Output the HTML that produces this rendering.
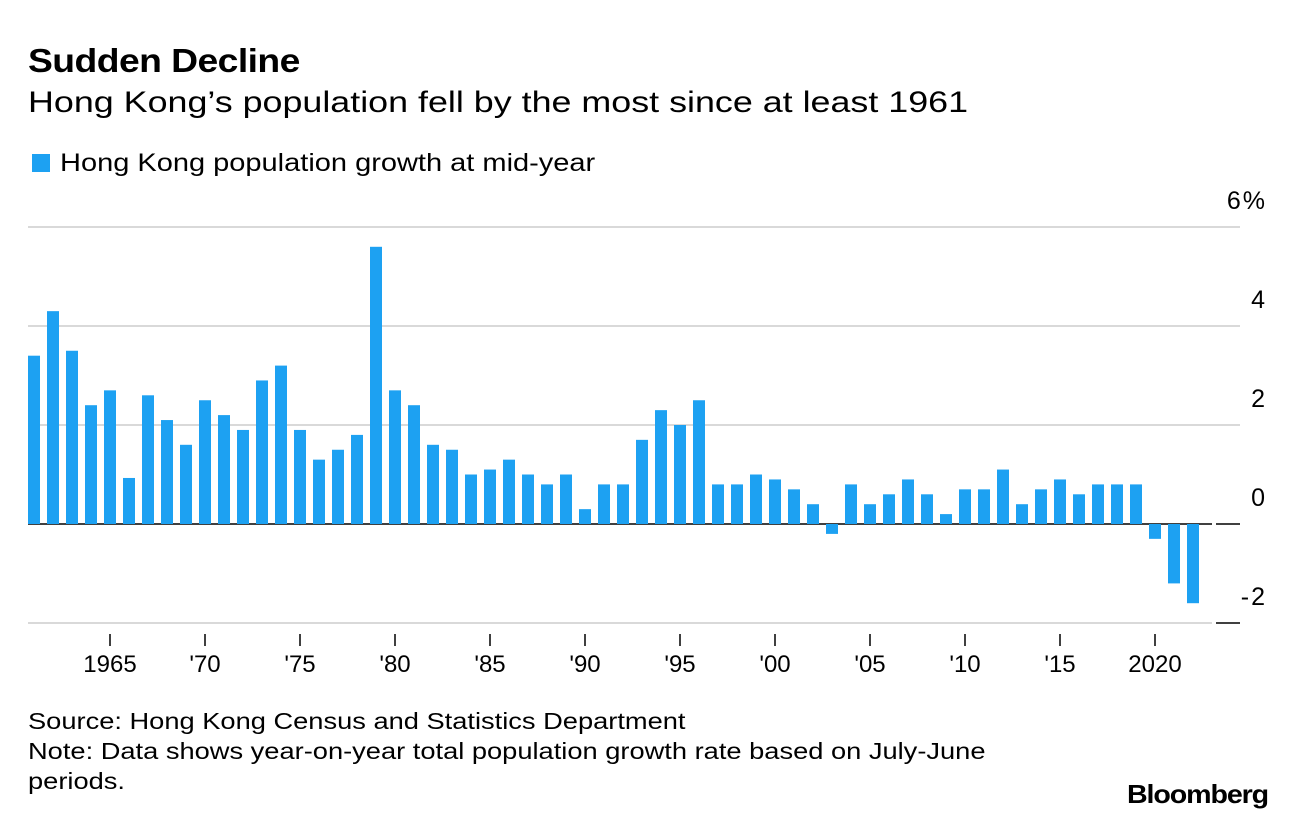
<!DOCTYPE html>
<html><head><meta charset="utf-8"><style>
body{margin:0;background:#fff;font-family:"Liberation Sans",Arial,sans-serif;}
#wrap{position:relative;width:1296px;height:820px;overflow:hidden;}
.t{position:absolute;white-space:nowrap;color:#000;transform-origin:0 0;}
</style></head><body>
<div id="wrap">
<div class="t" style="left:28px;top:42px;font-size:33px;font-weight:bold;letter-spacing:-0.5px;transform:scaleX(1.13)">Sudden Decline</div>
<div class="t" style="left:28px;top:86px;font-size:30px;transform:scaleX(1.195)">Hong Kong’s population fell by the most since at least 1961</div>
<div class="t" style="left:32px;top:149px;font-size:25px"><span style="display:inline-block;width:18px;height:18px;background:#1da1f2;margin-right:10px;vertical-align:-1px"></span><span style="display:inline-block;transform:scaleX(1.16);transform-origin:0 0">Hong Kong population growth at mid-year</span></div>
<svg id="chart" width="1296" height="700" style="position:absolute;left:0;top:0"></svg>
<div class="t" style="left:28px;top:706px;font-size:23px;line-height:30px;transform:scaleX(1.185)">Source: Hong Kong Census and Statistics Department<br>Note: Data shows year-on-year total population growth rate based on July-June<br>periods.</div>
<div class="t" style="left:1127px;top:779px;font-size:26px;font-weight:bold;letter-spacing:-1px;transform:scaleX(1.1)">Bloomberg</div>
</div>
<script>
const years=[];for(let y=1961;y<=2022;y++)years.push(y);
const values=[3.4,4.3,3.5,2.4,2.7,0.93,2.6,2.1,1.6,2.5,2.2,1.9,2.9,3.2,1.9,1.3,1.5,1.8,5.6,2.7,2.4,1.6,1.5,1.0,1.1,1.3,1.0,0.8,1.0,0.3,0.8,0.8,1.7,2.3,2.0,2.5,0.8,0.8,1.0,0.9,0.7,0.4,-0.2,0.8,0.4,0.6,0.9,0.6,0.2,0.7,0.7,1.1,0.4,0.7,0.9,0.6,0.8,0.8,0.8,-0.3,-1.2,-1.6];
const yTicks=[6,4,2,0,-2];
const yTickLabels=["6%","4","2","0","-2"];
const xTickYears=[1965,1970,1975,1980,1985,1990,1995,2000,2005,2010,2015,2020];
const xTickLabels=["1965","'70","'75","'80","'85","'90","'95","'00","'05","'10","'15","2020"];
const NS="http://www.w3.org/2000/svg";
const svg=document.getElementById('chart');
const yS=v=>524-v*49.5;
const xS=yr=>34+(yr-1961)*19.0;
function mk(t,a){const e=document.createElementNS(NS,t);for(const k in a)e.setAttribute(k,a[k]);svg.appendChild(e);return e;}
yTicks.forEach((v,i)=>{
  const l=mk('line',{x1:28,x2:v<=0?1212:1240,y1:yS(v),y2:yS(v),stroke:v===0?'#000':'#d9d9d9','stroke-width':v===0?1.5:2});
  
  
  if(v<=0){const m=mk('line',{x1:1216,x2:1240,y1:yS(v),y2:yS(v),stroke:'#000','stroke-width':1.5});
    
    }
  const t=mk('text',{x:1267,y:yS(v)-18,'text-anchor':'end','font-size':25,'letter-spacing':2,'font-family':'Liberation Sans, sans-serif'});
  t.textContent=yTickLabels[i];
  
  
});
values.forEach((v,i)=>{
  const y0=yS(0),y1=yS(v);
  const r=mk('rect',{x:xS(years[i])-6,y:Math.min(y0,y1),width:12,height:Math.abs(y1-y0),fill:'#1da1f2'});
  
  
});
xTickYears.forEach((yr,i)=>{
  const l=mk('line',{x1:xS(yr),x2:xS(yr),y1:634,y2:646,stroke:'#000','stroke-width':1.5});
  
  
  const t=mk('text',{x:xS(yr),y:672,'text-anchor':'middle','font-size':24,'font-family':'Liberation Sans, sans-serif'});
  t.textContent=xTickLabels[i];
  
  
});
</script>
</body></html>
